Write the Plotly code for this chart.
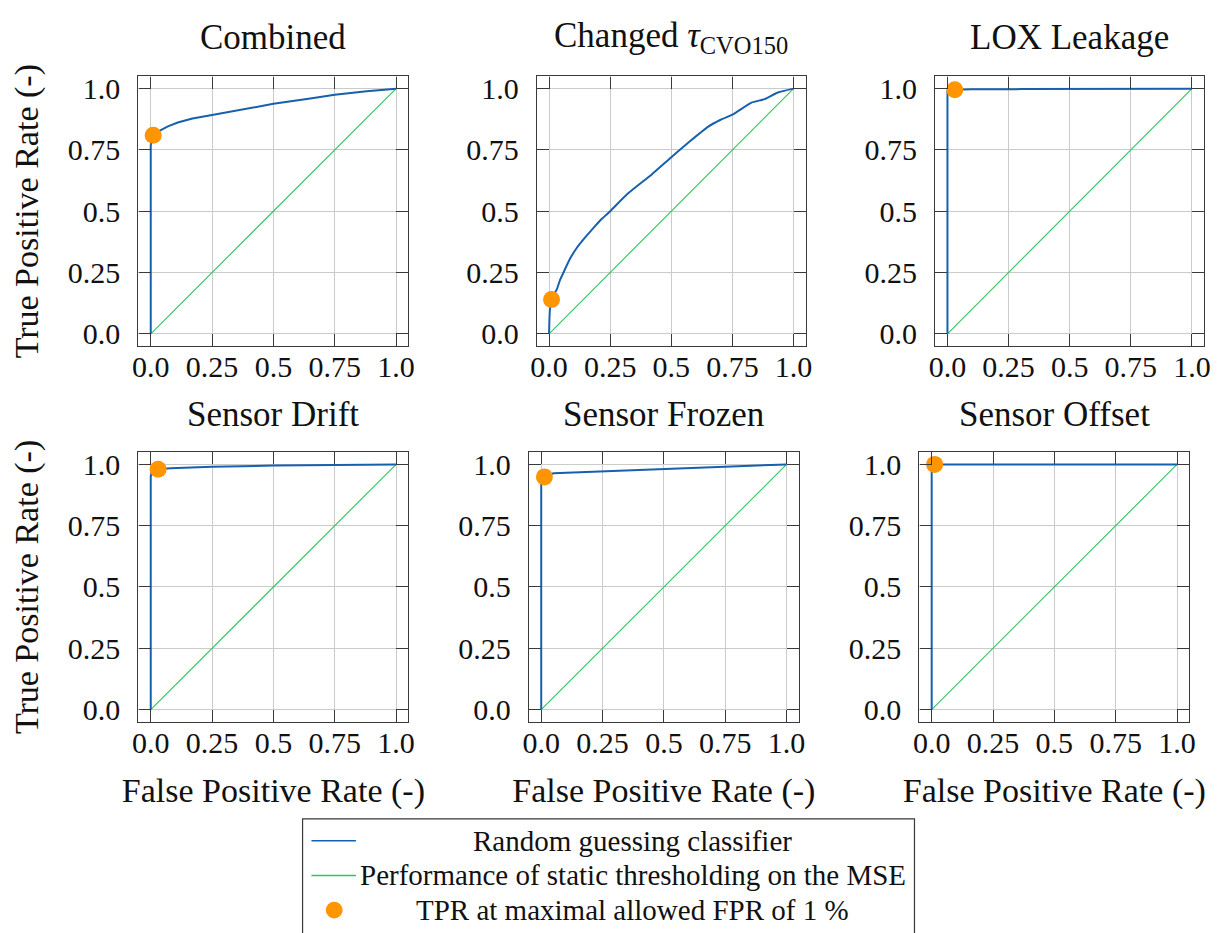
import plotly.graph_objects as go
from plotly.subplots import make_subplots

W, H = 1221, 933
FONT = "Liberation Serif"

# ---- data -------------------------------------------------------------
panel_titles = [
    "Combined",
    "Changed <i>τ</i><sub>CVO150</sub>",
    "LOX Leakage",
    "Sensor Drift",
    "Sensor Frozen",
    "Sensor Offset",
]

fpr_combined = [0, 0, 0.005, 0.01, 0.02, 0.04, 0.07, 0.11, 0.17, 0.25, 0.35, 0.5, 0.65, 0.75, 0.88, 1.0]
tpr_combined = [0, 0.77, 0.79, 0.81, 0.82, 0.831, 0.846, 0.862, 0.878, 0.892, 0.91, 0.938, 0.960, 0.975, 0.989, 1.0]

fpr_tau = [0, 0.003, 0.01, 0.02, 0.032, 0.045, 0.059, 0.085, 0.113, 0.145, 0.18, 0.215, 0.25, 0.32, 0.42, 0.5,
           0.57, 0.653, 0.7, 0.754, 0.828, 0.882, 0.936, 1.0]
tpr_tau = [0, 0.094, 0.14, 0.16, 0.182, 0.22, 0.25, 0.305, 0.35, 0.39, 0.43, 0.468, 0.50, 0.57, 0.65, 0.72,
           0.78, 0.846, 0.872, 0.896, 0.943, 0.957, 0.984, 1.0]

fpr_lox = [0, 0, 0.03, 0.1, 0.3, 0.6, 1.0]
tpr_lox = [0, 0.99, 0.995, 0.997, 0.998, 0.999, 1.0]

fpr_drift = [0, 0, 0.005, 0.03, 0.08, 0.25, 0.5, 0.75, 1.0]
tpr_drift = [0, 0.95, 0.975, 0.98, 0.984, 0.99, 0.995, 0.998, 1.0]

fpr_frozen = [0, 0, 0.005, 0.013, 0.05, 0.25, 0.5, 0.75, 1.0]
tpr_frozen = [0, 0.92, 0.94, 0.949, 0.964, 0.972, 0.981, 0.99, 1.0]

fpr_offset = [0, 0, 0.01, 1.0]
tpr_offset = [0, 0.999, 1.0, 1.0]

roc_fpr = [fpr_combined, fpr_tau, fpr_lox, fpr_drift, fpr_frozen, fpr_offset]
roc_tpr = [tpr_combined, tpr_tau, tpr_lox, tpr_drift, tpr_frozen, tpr_offset]

# operating point at the maximal allowed FPR of 1 %
op_fpr = [0.01, 0.01, 0.03, 0.03, 0.013, 0.012]
op_tpr = [0.81, 0.14, 0.995, 0.98, 0.949, 1.0]

diag_x = [0, 1]
diag_y = [0, 1]

tick_vals = [0, 0.25, 0.5, 0.75, 1.0]
tick_text = ["0.0", "0.25", "0.5", "0.75", "1.0"]

legend_labels = [
    "Random guessing classifier",
    "Performance of static thresholding on the MSE",
    "TPR at maximal allowed FPR of 1 %",
]

# ---- styling ----------------------------------------------------------
BLUE = "#1760ad"
GREEN = "#2fc45f"
ORANGE = "#ff9500"
FRAME = "#3a3a3a"
GRID = "#cbcbcb"

# panel frames in pixels: (left, right, top, bottom)
frames = [
    (133, 406, 73, 345),
    (536, 808, 73, 345),
    (939, 1211, 73, 345),
    (133, 406, 452, 724),
    (528, 801, 452, 724),
    (923, 1196, 452, 724),
]
title_y = [34, 34, 34, 414, 414, 414]

fig = make_subplots(rows=2, cols=3)

for i in range(6):
    r, c = i // 3 + 1, i % 3 + 1
    fig.add_trace(go.Scatter(x=diag_x, y=diag_y, mode="lines",
                             line=dict(color=GREEN, width=1.1),
                             showlegend=False, hoverinfo="skip"), row=r, col=c)
    # the smooth curve of panel 2 is drawn as a spline, the step-like ones stay linear
    roc_line = dict(color=BLUE, width=2)
    if i == 1:
        roc_line.update(shape="spline", smoothing=0.5)
    fig.add_trace(go.Scatter(x=roc_fpr[i], y=roc_tpr[i], mode="lines",
                             line=roc_line, showlegend=False), row=r, col=c)
    fig.add_trace(go.Scatter(x=[op_fpr[i]], y=[op_tpr[i]], mode="markers",
                             marker=dict(color=ORANGE, size=17, line=dict(width=0)),
                             showlegend=False, cliponaxis=False), row=r, col=c)

axis_common = dict(
    range=[-0.05, 1.05], tickvals=tick_vals, ticktext=tick_text,
    ticks="inside", ticklen=12, tickwidth=1.3, tickcolor=FRAME,
    showline=True, linecolor=FRAME, linewidth=1.3, mirror="ticks",
    showgrid=True, gridcolor=GRID, gridwidth=1.2, zeroline=False,
    tickfont=dict(family=FONT, size=30, color="#111"),
)

for i, (l, rgt, t, b) in enumerate(frames):
    sfx = "" if i == 0 else str(i + 1)
    xa = dict(axis_common, domain=[l / W, rgt / W], ticklabelstandoff=-6)
    ya = dict(axis_common, domain=[1 - b / H, 1 - t / H], ticklabelstandoff=11)
    if i >= 3:
        xa["title"] = dict(text="False Positive Rate (-)",
                           font=dict(family=FONT, size=34, color="#111"),
                           standoff=20)
    if i % 3 == 0:
        ya["title"] = dict(text="True Positive Rate (-)",
                           font=dict(family=FONT, size=34, color="#111"),
                           standoff=18)
    fig.layout["xaxis" + sfx].update(xa)
    fig.layout["yaxis" + sfx].update(ya)
    fig.add_annotation(text=panel_titles[i], xref="paper", yref="paper",
                       x=(l + rgt) / 2 / W, y=1 - title_y[i] / H,
                       xanchor="center", yanchor="middle", showarrow=False,
                       font=dict(family=FONT, size=35, color="#111"))

# ---- legend box -------------------------------------------------------
shapes = [dict(type="rect", xref="paper", yref="paper",
               x0=299 / W, x1=918 / W, y0=1 - 940 / H, y1=1 - 822 / H,
               line=dict(color=FRAME, width=1.2), fillcolor="white")]
row_y = [844, 879, 914]
shapes.append(dict(type="line", xref="paper", yref="paper",
                   x0=308 / W, x1=353 / W, y0=1 - row_y[0] / H, y1=1 - row_y[0] / H,
                   line=dict(color=BLUE, width=1.5)))
shapes.append(dict(type="line", xref="paper", yref="paper",
                   x0=308 / W, x1=353 / W, y0=1 - row_y[1] / H, y1=1 - row_y[1] / H,
                   line=dict(color=GREEN, width=1.5)))
shapes.append(dict(type="circle", xref="paper", yref="paper",
                   x0=(331 - 8.5) / W, x1=(331 + 8.5) / W,
                   y0=1 - (row_y[2] + 8.5) / H, y1=1 - (row_y[2] - 8.5) / H,
                   line=dict(width=0), fillcolor=ORANGE))
for lbl, yy in zip(legend_labels, row_y):
    fig.add_annotation(text=lbl, xref="paper", yref="paper",
                       x=633 / W, y=1 - yy / H, xanchor="center", yanchor="middle",
                       showarrow=False, font=dict(family=FONT, size=29, color="#111"))

fig.update_layout(
    width=W, height=H, margin=dict(l=0, r=0, t=0, b=0),
    paper_bgcolor="white", plot_bgcolor="white",
    shapes=shapes, showlegend=False,
    font=dict(family=FONT, color="#111"),
)

fig.write_html("out.html")
